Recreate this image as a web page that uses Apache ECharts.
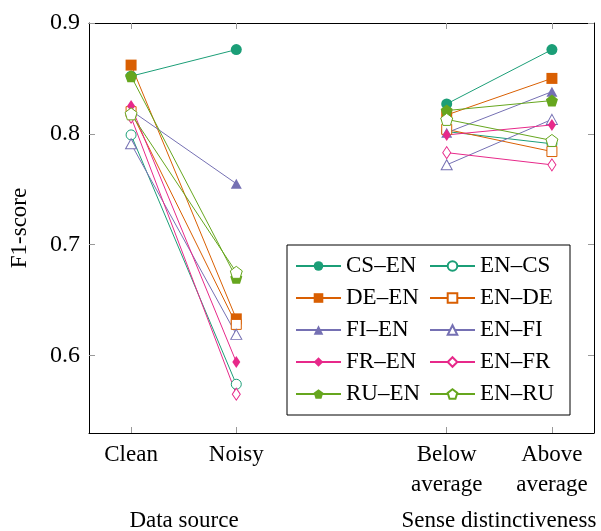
<!DOCTYPE html>
<html>
<head>
<meta charset="utf-8">
<script src="https://cdn.jsdelivr.net/npm/echarts@6/dist/echarts.min.js"></script>
<style>
  html, body { margin: 0; padding: 0; background: #fff; }
  #chart { width: 601px; height: 531px; }
</style>
</head>
<body>
<div id="chart"></div>
<script>
// x positions: 0 Clean, 1 Noisy, (2 gap), 3 Below average, 4 Above average
const xPos = [0, 1, 3, 4];
const xLabels = ["Clean", "Noisy", "", "Below\naverage", "Above\naverage"];
const yTicks = [0.6, 0.7, 0.8, 0.9];

// values at Clean, Noisy, Below average, Above average
const csEn = [0.852, 0.876, 0.827, 0.876];
const enCs = [0.799, 0.574, 0.802, 0.791];
const deEn = [0.862, 0.633, 0.817, 0.850];
const enDe = [0.820, 0.628, 0.804, 0.784];
const fiEn = [0.821, 0.755, 0.801, 0.838];
const enFi = [0.791, 0.619, 0.772, 0.813];
const frEn = [0.825, 0.594, 0.799, 0.808];
const enFr = [0.815, 0.565, 0.783, 0.772];
const ruEn = [0.852, 0.670, 0.821, 0.830];
const enRu = [0.818, 0.675, 0.813, 0.794];

const names = ["CS–EN", "EN–CS", "DE–EN", "EN–DE", "FI–EN", "EN–FI", "FR–EN", "EN–FR", "RU–EN", "EN–RU"];
const values = [csEn, enCs, deEn, enDe, fiEn, enFi, frEn, enFr, ruEn, enRu];

const colors = ["#1b9e77", "#1b9e77", "#d95f02", "#d95f02", "#7570b3", "#7570b3", "#e7298a", "#e7298a", "#66a61e", "#66a61e"];
const pentagon = "path://M0,-1 L0.951,-0.309 L0.588,0.809 L-0.588,0.809 L-0.951,-0.309 Z";
const symbols = ["circle", "circle", "rect", "rect", "triangle", "triangle", "diamond", "diamond", pentagon, pentagon];
const sizes = [11, 10, 11, 10, [11, 10], [11, 10], [8, 12], [8, 12], 12, 12];

const font = "Liberation Serif";

function toData(v) {
  // break the line between the two groups
  return [[xPos[0], v[0]], [xPos[1], v[1]], [2, "-"], [xPos[2], v[2]], [xPos[3], v[3]]];
}

const series = names.map((n, i) => {
  const open = i % 2 === 1;
  return {
    name: n,
    type: "line",
    data: toData(values[i]),
    symbol: symbols[i],
    symbolSize: sizes[i],
    showAllSymbol: true,
    lineStyle: { color: colors[i], width: 1 },
    itemStyle: open
      ? { color: "#fff", borderColor: colors[i], borderWidth: 1 }
      : { color: colors[i], borderColor: colors[i], borderWidth: 0 },
    emphasis: { disabled: true },
    animation: false,
  };
});

const tickStyle = { show: true, inside: true, length: 6, lineStyle: { color: "#999" } };

const option = {
  animation: false,
  textStyle: { fontFamily: font },
  grid: { left: 88, right: 7, top: 23, bottom: 98 },
  legend: {
    data: names,
    orient: "horizontal",
    left: 287,
    top: 245,
    width: 262,
    itemWidth: 45,
    itemHeight: 12,
    itemGap: 8,
    padding: [9, 15, 9, 8],
    borderColor: "#000",
    borderWidth: 1,
    textStyle: { fontFamily: font, fontSize: 23, color: "#000", width: 75, lineHeight: 24 },
    selectedMode: false,
  },
  xAxis: [
    {
      type: "value",
      min: -0.4,
      max: 4.4,
      position: "bottom",
      axisLine: { show: true, onZero: false, lineStyle: { color: "#000" } },
      axisTick: Object.assign({ customValues: xPos }, tickStyle),
      splitLine: { show: false },
      axisLabel: {
        customValues: xPos,
        formatter: (v) => xLabels[Math.round(v)],
        fontFamily: font,
        fontSize: 23,
        color: "#000",
        lineHeight: 30,
        margin: 7,
      },
    },
    {
      type: "value",
      min: -0.4,
      max: 4.4,
      position: "top",
      axisLine: { show: true, onZero: false, lineStyle: { color: "#000" } },
      axisTick: Object.assign({ customValues: xPos }, tickStyle),
      splitLine: { show: false },
      axisLabel: { show: false },
    },
  ],
  yAxis: [
    {
      type: "value",
      min: 0.53,
      max: 0.9,
      name: "F1-score",
      nameLocation: "middle",
      nameRotate: 90,
      nameGap: 58,
      nameTextStyle: { fontFamily: font, fontSize: 23, color: "#000" },
      axisLine: { show: true, onZero: false, lineStyle: { color: "#000" } },
      axisTick: Object.assign({ customValues: yTicks }, tickStyle),
      splitLine: { show: false },
      axisLabel: {
        customValues: yTicks,
        formatter: (v) => v.toFixed(1),
        fontFamily: font,
        fontSize: 24,
        color: "#000",
        margin: 9,
      },
    },
    {
      type: "value",
      min: 0.53,
      max: 0.9,
      position: "right",
      axisLine: { show: true, onZero: false, lineStyle: { color: "#000" } },
      axisTick: Object.assign({ customValues: yTicks }, tickStyle),
      splitLine: { show: false },
      axisLabel: { show: false },
    },
  ],
  graphic: [
    {
      type: "text",
      x: 184,
      y: 509,
      style: { text: "Data source", font: "23px 'Liberation Serif'", fill: "#000", align: "center", verticalAlign: "top" },
    },
    {
      type: "text",
      x: 499,
      y: 509,
      style: { text: "Sense distinctiveness", font: "23px 'Liberation Serif'", fill: "#000", align: "center", verticalAlign: "top" },
    },
  ],
  series: series,
};

const chart = echarts.init(document.getElementById("chart"), null, { renderer: "canvas" });
chart.setOption(option);
</script>
</body>
</html>
